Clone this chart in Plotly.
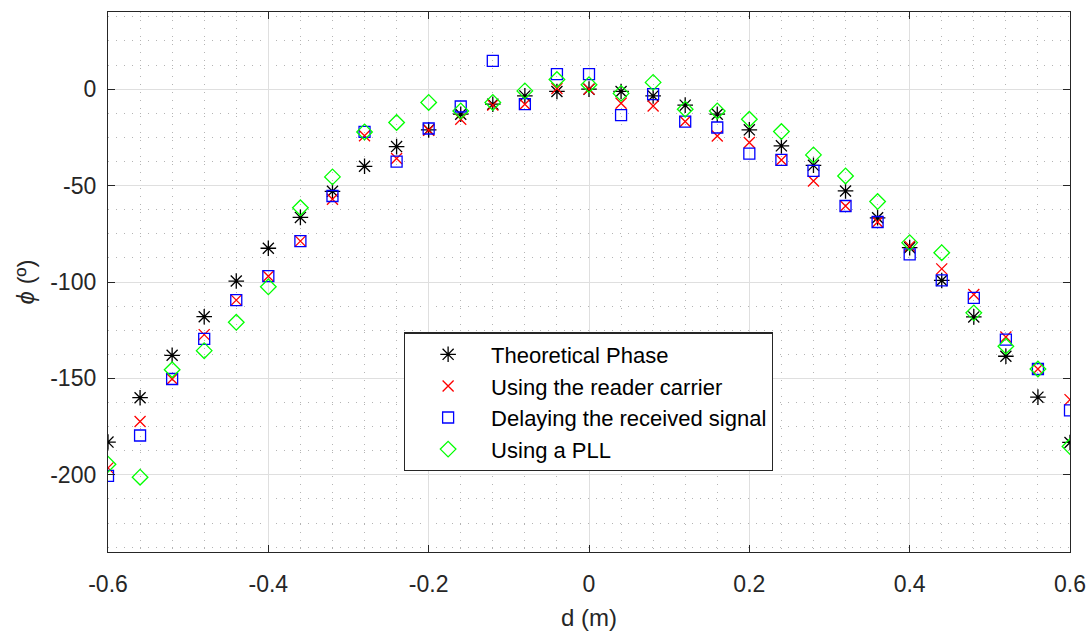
import plotly.graph_objects as go

d_m = [-0.6, -0.56, -0.52, -0.48, -0.44, -0.4, -0.36, -0.32, -0.28, -0.24, -0.2, -0.16, -0.12, -0.08, -0.04, 0.0,
       0.04, 0.08, 0.12, 0.16, 0.2, 0.24, 0.28, 0.32, 0.36, 0.4, 0.44, 0.48, 0.52, 0.56, 0.6]

theoretical = [-183, -160, -138, -118, -99.5, -82.5, -66.5, -53, -40, -29.8, -21.1, -13, -7.8, -3.5, -1.2, 0,
               -1.2, -3.5, -8.3, -13, -21.1, -29.4, -39.5, -52.8, -66.7, -82.2, -99.2, -118.1, -138.5, -159.7, -183.2]

reader_carrier = [-196.4, -172.3, -150.3, -127.3, -109.4, -97, -78.8, -57.1, -24.2, -36, -21.3, -15.6, -8.3, -7.8, 0.3, 0,
                  -7.3, -8.7, -16.8, -24.3, -27.7, -36.7, -47.6, -60.6, -68.9, -81.4, -93.2, -106.5, -128.5, -145.1, -161]

delayed_signal = [-200.5, -179.6, -150.3, -129.5, -109.4, -97, -78.8, -55.4, -22.2, -37.6, -20.4, -9, 14.7, -7.8, 7.8, 7.8,
                  -13.5, -2.6, -16.8, -19.9, -33.4, -36.7, -42.4, -60.6, -68.9, -85.7, -99.2, -108.2, -129.9, -145.1, -166.6]

pll = [-194.5, -201.2, -145.5, -135.6, -120.9, -102.5, -61.5, -45.5, -22.2, -17.3, -6.9, -11.3, -6.9, -0.9, 5, 2.3,
       -2.2, 3.5, -10.4, -11.3, -15.6, -22, -34.1, -45, -58.3, -79.6, -84.8, -116, -133.3, -145.1, -185.3]

x_tickvals = [-0.6, -0.4, -0.2, 0, 0.2, 0.4, 0.6]
x_ticktext = ["-0.6", "-0.4", "-0.2", "0", "0.2", "0.4", "0.6"]
y_tickvals = [-200, -150, -100, -50, 0]
y_ticktext = ["-200", "-150", "-100", "-50", "0"]

series = [
    ("Theoretical Phase", theoretical, "asterisk-open", "#000000", 13),
    ("Using the reader carrier", reader_carrier, "x-thin-open", "#FF0000", 11),
    ("Delaying the received signal", delayed_signal, "square-open", "#0000FF", 11),
    ("Using a PLL", pll, "diamond-open", "#00FF00", 12),
]

fig = go.Figure()
for name, vals, sym, col, size in series:
    fig.add_trace(go.Scatter(
        x=d_m, y=vals, mode="markers", name=name,
        marker=dict(symbol=sym, size=size, color=col, line=dict(color=col, width=1.3)),
    ))

FONT = "Liberation Sans, Arial, Helvetica"
axis_common = dict(
    showline=True, linecolor="#262626", linewidth=1.3, mirror="allticks",
    ticks="inside", ticklen=7, tickcolor="#262626", tickwidth=1.3,
    showgrid=True, gridcolor="#DFDFDF", gridwidth=1,
    zeroline=False, automargin=False,
    tickfont=dict(family=FONT, size=23, color="#262626"),
)
minor_common = dict(showgrid=True, gridcolor="#B4B4B4", griddash="1px,7px", gridwidth=1, ticks="")

fig.update_xaxes(
    range=[-0.6, 0.6], tickmode="array", tickvals=x_tickvals, ticktext=x_ticktext,
    ticklabelstandoff=11,
    title=dict(text="d (m)", font=dict(family=FONT, size=24, color="#262626"), standoff=13),
    minor=dict(dtick=0.04, tick0=0, **minor_common),
    **axis_common,
)
fig.update_yaxes(
    range=[-240, 40], tickmode="array", tickvals=y_tickvals, ticktext=y_ticktext,
    ticklabelstandoff=6,
    title=dict(text="<i>ϕ</i> (º)", font=dict(family=FONT, size=24, color="#262626"), standoff=8),
    minor=dict(dtick=12.5, tick0=0, **minor_common),
    **axis_common,
)

fig.update_layout(
    width=1090, height=633,
    margin=dict(l=108, r=20, t=12, b=81),
    paper_bgcolor="white", plot_bgcolor="white",
    font=dict(family=FONT, color="#000000"),
    showlegend=True,
    legend=dict(
        x=0.3075, y=0.407, xanchor="left", yanchor="top",
        bgcolor="white", bordercolor="#262626", borderwidth=1.3,
        font=dict(family=FONT, size=22, color="#000000"),
        itemwidth=76,
    ),
)

fig.write_html("out.html", config={"displayModeBar": False},
               post_script="document.body.style.margin='0';document.body.style.overflow='hidden';")
